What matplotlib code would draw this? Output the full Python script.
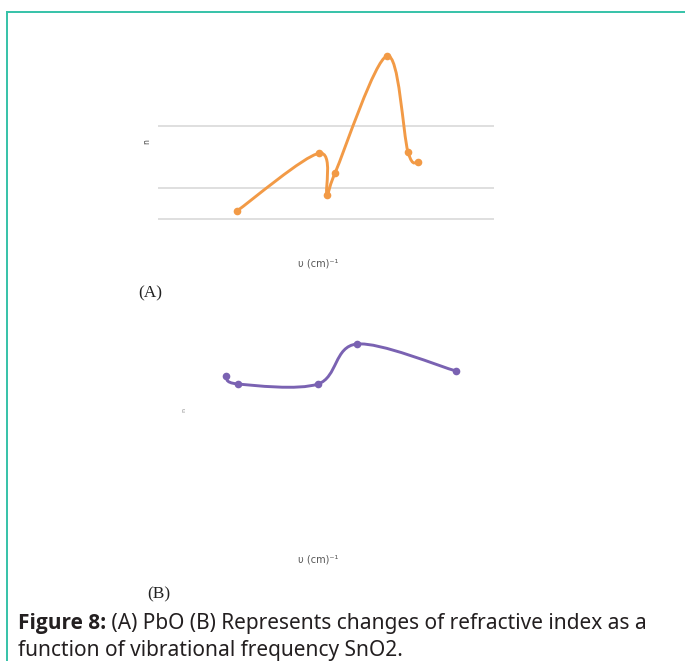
import numpy as np
import matplotlib.pyplot as plt
from matplotlib.path import Path
from matplotlib.patches import PathPatch
from matplotlib.lines import Line2D

# Panel A (PbO): wavenumber vs refractive index
freq_a = [790, 1610, 1690, 1770, 2290, 2500, 2600]
n_a = [1.63, 2.56, 1.89, 2.24, 4.13, 2.58, 2.42]
grid_a = [1.5, 2.0, 3.0]

# Panel B (SnO2)
freq_b = [680, 800, 1600, 1990, 2980]
n_b = [1.44, 1.36, 1.36, 1.76, 1.49]

W, H = 685, 661


def smooth_path(x, y):
    # Excel-style smoothed line: Catmull-Rom segments as cubic Beziers
    p = np.column_stack([x, y]).astype(float)
    verts = [p[0]]
    codes = [Path.MOVETO]
    for i in range(len(p) - 1):
        p0 = p[i - 1] if i > 0 else p[i]
        p3 = p[i + 2] if i + 2 < len(p) else p[i + 1]
        c1 = p[i] + (p[i + 1] - p0) / 6
        c2 = p[i + 1] - (p3 - p[i]) / 6
        verts += [c1, c2, p[i + 1]]
        codes += [Path.CURVE4] * 3
    return Path(verts, codes)


def px_axes(fig, left, top, right, bottom):
    return fig.add_axes([left / W, 1 - bottom / H, (right - left) / W, (bottom - top) / H])


fig = plt.figure(figsize=(W / 100, H / 100), dpi=100)

# ---- Panel A
ax_a = px_axes(fig, 158, 40, 494, 240)
ax_a.set_xlim(0, 3360)
ax_a.set_ylim(2 - 52 / 62, 2 + 148 / 62)
for g in grid_a:
    ax_a.axhline(g, color='#d9d9d9', lw=1.2, zorder=0)
ax_a.add_patch(PathPatch(smooth_path(freq_a, n_a), fc='none', ec='#f29a46', lw=2.1))
ax_a.plot(freq_a, n_a, 'o', color='#f29a46', ms=5.5, mec='none')
ax_a.axis('off')

# ---- Panel B
ax_b = px_axes(fig, 158, 320, 494, 520)
ax_b.set_xlim(0, 3360)
ax_b.set_ylim(0, 2)
ax_b.add_patch(PathPatch(smooth_path(freq_b, n_b), fc='none', ec='#7a62b2', lw=2.1))
ax_b.plot(freq_b, n_b, 'o', color='#7a62b2', ms=5.5, mec='none')
ax_b.axis('off')

# axis labels (tiny, grey)
fig.text(147 / W, 1 - 142 / H, 'n', rotation=90, fontsize=5.5, color='#444444',
         ha='center', va='center')
fig.text(318 / W, 1 - 264 / H, 'υ (cm)⁻¹', fontsize=7, color='#555555',
         ha='center', va='center')
fig.text(184 / W, 1 - 410 / H, 'n', rotation=90, fontsize=4.5, color='#888888',
         ha='center', va='center')
fig.text(318 / W, 1 - 560 / H, 'υ (cm)⁻¹', fontsize=7, color='#555555',
         ha='center', va='center')

fig.text(150 / W, 1 - 293 / H, '(A)', family='Liberation Serif', fontsize=12.5,
         color='#222222', ha='center', va='center')
fig.text(159 / W, 1 - 594 / H, '(B)', family='Liberation Serif', fontsize=12.5,
         color='#222222', ha='center', va='center')

# caption
cap_size = 15.0
cap = fig.text(18 / W, 1 - 629 / H, 'Figure 8:', family='Open Sans', fontsize=cap_size,
               fontweight='bold', color='#231f20', va='baseline')
rest = fig.text(0, 0, ' (A) PbO (B) Represents changes of refractive index as a',
                family='Noto Sans', fontsize=cap_size, color='#231f20', va='baseline')
fig.canvas.draw()
bb = cap.get_window_extent()
rest.set_position((bb.x1 / W, 1 - 629 / H))
fig.text(18 / W, 1 - 656 / H, 'function of vibrational frequency SnO2.',
         family='Noto Sans', fontsize=cap_size, color='#231f20', va='baseline')

# teal frame on the left and top
fig.add_artist(Line2D([6.5 / W, 1], [1 - 11.5 / H, 1 - 11.5 / H], color='#35c2a8', lw=1.4))
fig.add_artist(Line2D([6.5 / W, 6.5 / W], [0, 1 - 11.5 / H], color='#35c2a8', lw=1.4))

fig.savefig('out.png', dpi=100)
